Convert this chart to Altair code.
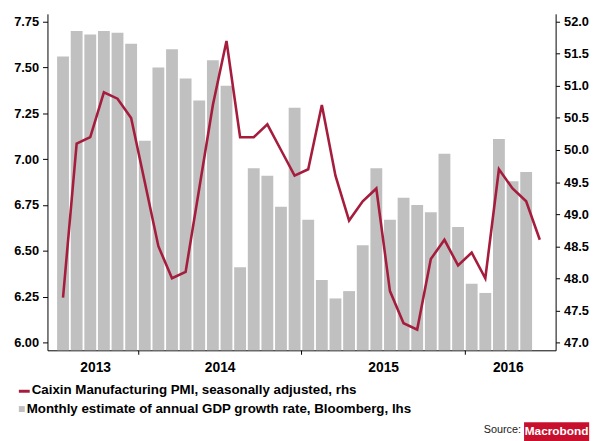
import altair as alt
import pandas as pd

# Months from Jul 2013 to Jun 2016 (index 0 = Jul 2013)
months = ["2013-07", "2013-08", "2013-09", "2013-10", "2013-11", "2013-12",
          "2014-01", "2014-02", "2014-03", "2014-04", "2014-05", "2014-06",
          "2014-07", "2014-08", "2014-09", "2014-10", "2014-11", "2014-12",
          "2015-01", "2015-02", "2015-03", "2015-04", "2015-05", "2015-06",
          "2015-07", "2015-08", "2015-09", "2015-10", "2015-11", "2015-12",
          "2016-01", "2016-02", "2016-03", "2016-04", "2016-05", "2016-06"]

# Monthly estimate of annual GDP growth rate (lhs), Jul 2013 - May 2016
gdp = [7.56, 7.70, 7.68, 7.70, 7.69, 7.63, 7.10, 7.50, 7.60, 7.44, 7.32, 7.54,
       7.40, 6.41, 6.95, 6.91, 6.74, 7.28, 6.67, 6.34, 6.24, 6.28, 6.53, 6.95,
       6.67, 6.79, 6.75, 6.71, 7.03, 6.63, 6.32, 6.27, 7.11, 6.88, 6.93]

# Caixin Manufacturing PMI (rhs), Jul 2013 - Jun 2016
pmi = [47.7, 50.1, 50.2, 50.9, 50.8, 50.5, 49.5, 48.5, 48.0, 48.1, 49.4, 50.7,
       51.7, 50.2, 50.2, 50.4, 50.0, 49.6, 49.7, 50.7, 49.6, 48.9, 49.2, 49.4,
       47.8, 47.3, 47.2, 48.3, 48.6, 48.2, 48.4, 48.0, 49.7, 49.4, 49.2, 48.6]

years = ["2013", "2014", "2015", "2016"]
left_ticks = [6.00, 6.25, 6.50, 6.75, 7.00, 7.25, 7.50, 7.75]
right_ticks = [47.0, 47.5, 48.0, 48.5, 49.0, 49.5, 50.0, 50.5, 51.0, 51.5, 52.0]

legend_labels = ["Caixin Manufacturing PMI, seasonally adjusted, rhs",
                 "Monthly estimate of annual GDP growth rate, Bloomberg, lhs"]

FONT = "Liberation Sans"
RED = "#a51c3c"
GRAY = "#c0c0c0"

df_gdp = pd.DataFrame({"i": list(range(len(gdp))), "month": months[:len(gdp)], "gdp": gdp})
df_pmi = pd.DataFrame({"i": list(range(len(pmi))), "month": months, "pmi": pmi})

x_dom = [-0.78, len(pmi) - 1 + 0.8]
x_scale = alt.Scale(domain=x_dom, nice=False, zero=False)
left_dom = [5.957, 7.793]
right_dom = [46.877, 52.123]

# year boundaries (start of Jan) and label centres within the visible span
first_jan = months.index("2014-01") - 0.5
bounds = [first_jan, first_jan + 12, first_jan + 24]
edges = [x_dom[0]] + bounds + [x_dom[1]]
label_pos = [(edges[k] + edges[k + 1]) / 2 for k in range(4)]
label_expr = ("datum.value < %f ? '%s' : datum.value < %f ? '%s' : datum.value < %f ? '%s' : '%s'"
              % (bounds[0], years[0], bounds[1], years[1], bounds[2], years[2], years[3]))

bars = alt.Chart(df_gdp).mark_bar(size=12, color=GRAY).encode(
    x=alt.X("i:Q", scale=x_scale,
            axis=alt.Axis(orient="bottom", values=bounds, labels=False, tickSize=4,
                          tickColor="black", domainColor="black", grid=False, title=None)),
    y=alt.Y("gdp:Q", scale=alt.Scale(domain=left_dom, nice=False, zero=False),
            axis=alt.Axis(orient="left", values=left_ticks, format=".2f", title=None,
                          grid=False, tickSize=5, labelPadding=4, tickColor="black",
                          domainColor="black", labelFont=FONT, labelFontWeight="bold",
                          labelFontSize=13, labelColor="black")),
    y2=alt.datum(left_dom[0]),
)

line = alt.Chart(df_pmi).mark_line(color=RED, strokeWidth=2.6).encode(
    x=alt.X("i:Q", scale=x_scale,
            axis=alt.Axis(orient="bottom", values=label_pos, labelExpr=label_expr,
                          ticks=False, tickSize=0, domain=False, grid=False, title=None,
                          labelPadding=10, labelFont=FONT, labelFontWeight="bold",
                          labelFontSize=14, labelColor="black")),
    y=alt.Y("pmi:Q", scale=alt.Scale(domain=right_dom, nice=False, zero=False),
            axis=alt.Axis(orient="right", values=right_ticks, format=".1f", title=None,
                          grid=False, tickSize=4, labelPadding=4, tickColor="black",
                          domainColor="black", labelFont=FONT, labelFontWeight="bold",
                          labelFontSize=13, labelColor="black")),
)

main = alt.layer(bars, line).resolve_scale(y="independent").resolve_axis(x="independent")

# Legend and source decorations
one = pd.DataFrame({"k": [0]})
leg_line = alt.Chart(one).mark_rule(color=RED, strokeWidth=3).encode(
    x=alt.value(-29), x2=alt.value(-18), y=alt.value(382.5))
leg_sq = alt.Chart(one).mark_rect(color=GRAY).encode(
    x=alt.value(-29), x2=alt.value(-23), y=alt.value(397.5), y2=alt.value(403.5))
leg_t1 = alt.Chart(pd.DataFrame({"t": [legend_labels[0]]})).mark_text(
    align="left", baseline="middle", font=FONT, fontWeight="bold", fontSize=13.5, color="black"
).encode(text="t:N", x=alt.value(-16), y=alt.value(381.5))
leg_t2 = alt.Chart(pd.DataFrame({"t": [legend_labels[1]]})).mark_text(
    align="left", baseline="middle", font=FONT, fontWeight="bold", fontSize=13.5, color="black"
).encode(text="t:N", x=alt.value(-21), y=alt.value(400.5))
src = alt.Chart(pd.DataFrame({"t": ["Source:"]})).mark_text(
    align="right", baseline="middle", font=FONT, fontSize=11, color="#222222"
).encode(text="t:N", x=alt.value(480), y=alt.value(422))
logo_bg = alt.Chart(one).mark_rect(color="#c8102e").encode(
    x=alt.value(483), x2=alt.value(549), y=alt.value(414), y2=alt.value(440))
logo_t = alt.Chart(pd.DataFrame({"t": ["Macrobond"]})).mark_text(
    align="center", baseline="middle", font=FONT,
    fontWeight="bold", fontSize=12, color="white"
).encode(text="t:N", x=alt.value(516), y=alt.value(422.5))

chart = alt.layer(main, leg_line, leg_sq, leg_t1, leg_t2, src, logo_bg, logo_t).properties(
    width=515, height=341,
    autosize=alt.AutoSizeParams(type="none"),
    padding={"left": 40, "top": 3, "right": 47, "bottom": 89},
).configure_view(stroke=None)

chart.save("out.html", embed_options={"renderer": "svg", "actions": False})
